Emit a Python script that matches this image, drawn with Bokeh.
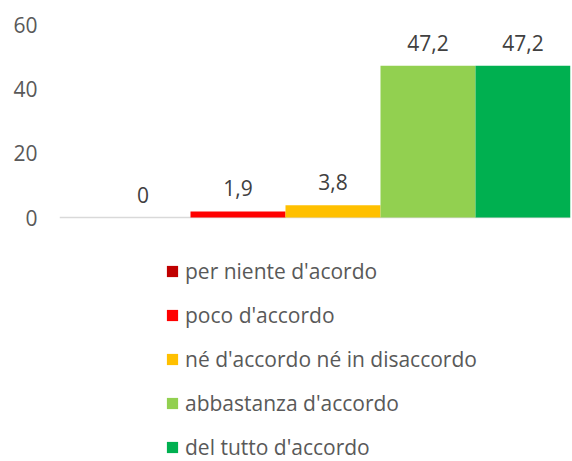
from bokeh.plotting import figure
from bokeh.models import ColumnDataSource, Range1d, Span, Legend, LegendItem, FixedTicker
from bokeh.core.properties import value
from bokeh.embed import file_html
from bokeh.resources import INLINE

categories = ["per niente d'acordo", "poco d'accordo", "né d'accordo né in disaccordo",
              "abbastanza d'accordo", "del tutto d'accordo"]
values = [0, 1.9, 3.8, 47.2, 47.2]
value_labels = ["0", "1,9", "3,8", "47,2", "47,2"]
colors = ["#C00000", "#FF0000", "#FFC000", "#92D050", "#00B050"]
y_ticks = [0, 20, 40, 60]

FONT = "Open Sans"
FS = "21px"

src = ColumnDataSource(dict(x=list(range(len(values))), top=values, color=colors,
                            lab=value_labels, name=categories))

p = figure(width=572, height=461, output_backend="svg", toolbar_location=None,
           x_range=Range1d(-0.879, 4.5), y_range=Range1d(-75.85, 60),
           x_axis_type=None, min_border_left=59, min_border_right=2,
           min_border_top=24, min_border_bottom=0)
p.outline_line_color = None
p.grid.visible = False

r = p.vbar(x="x", top="top", width=1.0, bottom=0, fill_color="color", line_color=None,
           source=src)

base = Span(location=0, dimension="width", line_color="#D9D9D9", line_width=1.5, level="underlay")
p.add_layout(base)

p.text(x="x", y="top", text="lab", source=src, text_align="center", text_baseline="middle",
       y_offset=-23, text_font=value(FONT), text_font_size=FS, text_color="#404040")

ax = p.yaxis[0]
ax.ticker = FixedTicker(ticks=y_ticks)
ax.axis_line_color = None
ax.major_tick_line_color = None
ax.minor_tick_line_color = None
ax.major_tick_out = 0
ax.major_tick_in = 0
ax.major_label_standoff = 22
ax.major_label_text_font = FONT
ax.major_label_text_font_size = FS
ax.major_label_text_color = "#595959"

items = [LegendItem(label=categories[i], renderers=[r], index=i) for i in range(len(categories))]
legend = Legend(items=items, location=(106, 0), orientation="vertical",
                glyph_width=14, glyph_height=14, label_height=24, spacing=16,
                label_standoff=6, padding=0, margin=0, border_line_color=None,
                background_fill_alpha=0, label_text_font=FONT, label_text_font_size=FS,
                label_text_color="#595959")
p.add_layout(legend, "center")

open("out.html", "w").write(file_html(p, INLINE))
